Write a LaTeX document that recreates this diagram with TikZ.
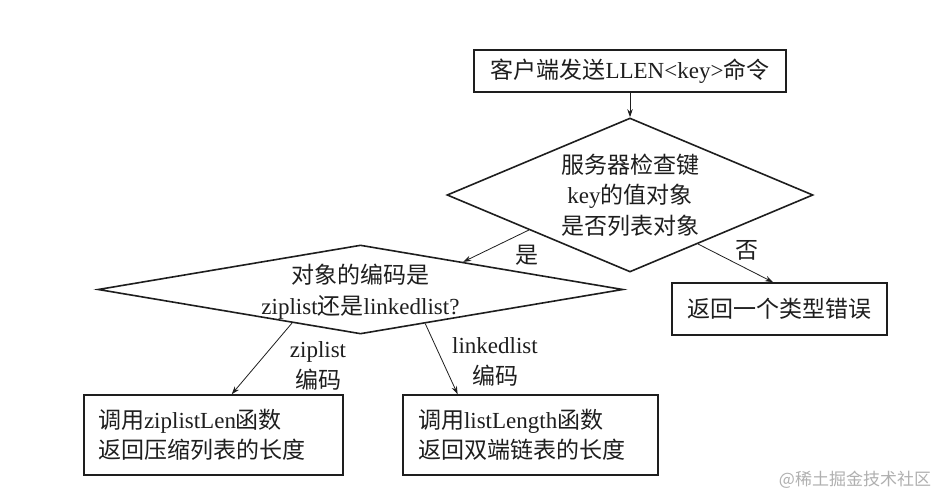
\documentclass[tikz,border=0pt]{standalone}
\usepackage{fontspec}
\setmainfont{Liberation Serif}
\newfontfamily\cjkfont{Noto Sans CJK SC}
\newcommand\zh[1]{{\cjkfont #1}}
\usetikzlibrary{shapes.geometric,arrows.meta,calc}
\definecolor{ink}{HTML}{1E1E1E}
\definecolor{wmgray}{HTML}{B0B0B0}
\begin{document}
\begin{tikzpicture}[x=1pt,y=-1pt,
  every node/.style={font=\fontsize{23}{30.5}\selectfont, text=ink},
  box/.style={draw=ink, line width=1.6pt, rectangle, inner sep=0pt},
  dia/.style={draw=ink, line width=1.6pt, diamond, inner sep=0pt},
  arr/.style={draw=ink, line width=0.8pt, -{Stealth[length=8pt,width=5.5pt]}},
  lbl/.style={align=center, inner sep=0pt}]
\useasboundingbox[fill=white] (0,0) rectangle (942,494);

\node[box, minimum width=312pt, minimum height=42pt] (top) at (630,71)
  {\zh{客户端发送}LLEN<key>\zh{命令}};
\node[dia, minimum width=366pt, minimum height=154pt,
  label={[lbl]center:{\zh{服务器检查键}\\key\zh{的值对象}\\\zh{是否列表对象}}}] (d1) at (630,195) {};
\node[dia, minimum width=525pt, minimum height=89pt,
  label={[lbl, yshift=-2pt]center:{\zh{对象的编码是}\\ziplist\zh{还是}linkedlist?}}] (d2) at (360.5,289.5) {};
\node[box, minimum width=215pt, minimum height=52pt] (no) at (779.5,309)
  {\zh{返回一个类型错误}};
\node[box, minimum width=259pt, minimum height=80pt, text width=231pt, align=left] (zl) at (213.5,435)
  {\zh{调用}ziplistLen\zh{函数}\\\zh{返回压缩列表的长度}};
\node[box, minimum width=255pt, minimum height=80pt, text width=225pt, align=left] (ll) at (530.5,435)
  {\zh{调用}listLength\zh{函数}\\\zh{返回双端链表的长度}};

\draw[arr] (top) -- (d1);
\coordinate (yesA) at ($(d1.west)!0.45!(d1.south)$);
\coordinate (yesB) at ($(d2.north)!0.39!(d2.east)$);
\draw[arr] (yesA) -- (yesB);
\coordinate (noA) at ($(d1.south)!0.37!(d1.east)$);
\coordinate (noB) at ($(no.north west)!0.47!(no.north east)$);
\draw[arr] (noA) -- (noB);
\coordinate (zA) at ($(d2.west)!0.74!(d2.south)$);
\coordinate (zB) at ($(zl.north west)!0.57!(zl.north east)$);
\draw[arr] (zA) -- (zB);
\coordinate (lA) at ($(d2.south)!0.246!(d2.east)$);
\coordinate (lB) at ($(ll.north west)!0.216!(ll.north east)$);
\draw[arr] (lA) -- (lB);

\node (yes) at (527,255) {\zh{是}};
\node (nolbl) at (747,250) {\zh{否}};
\node[lbl] (zlab) at (318,366) {ziplist\\\zh{编码}};
\node[lbl] (llab) at (495,362) {linkedlist\\\zh{编码}};
\node[text=wmgray, font=\cjkfont\fontsize{17}{20}\selectfont] (wm) at (855,480) {@稀土掘金技术社区};
\end{tikzpicture}
\end{document}
